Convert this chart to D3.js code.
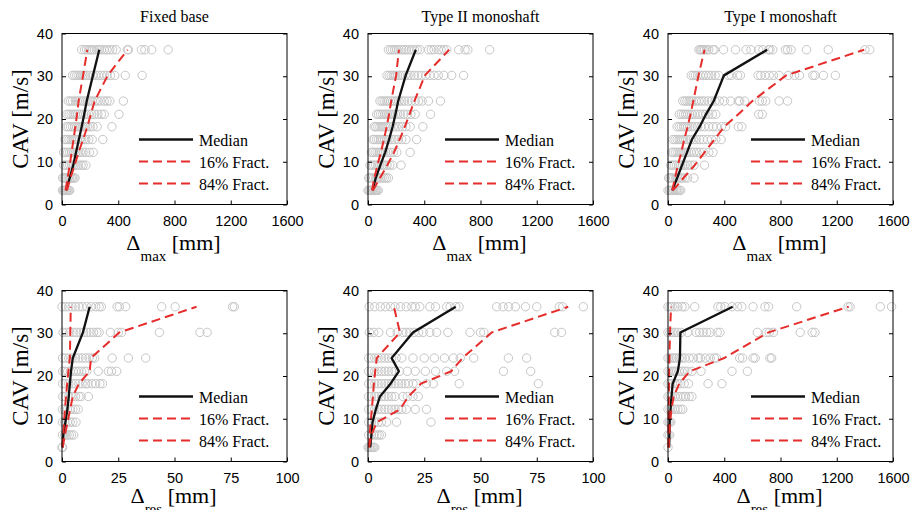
<!DOCTYPE html>
<html>
<head>
<meta charset="utf-8">
<script src="https://cdn.jsdelivr.net/npm/d3@7"></script>
<style>
  html, body { margin: 0; padding: 0; background: #fff; }
  svg { display: block; }
</style>
</head>
<body>
<svg id="chart" width="916" height="510"></svg>
<script>
// CAV intensity levels shared by every panel (m/s)
const cavLevels = [3.3, 6.2, 9.2, 12.2, 15.2, 18.2, 21.1, 24.2, 30.2, 36.2];

const panelTitles = ["Fixed base", "Type II monoshaft", "Type I monoshaft"];
const legendLabels = ["Median", "16% Fract.", "84% Fract."];
const yTicks = [0, 10, 20, 30, 40];
const xTicksWide = [0, 400, 800, 1200, 1600];
const xTicksNarrow = [0, 25, 50, 75, 100];

// ---- Maximum displacement, fixed base (mm), one row per CAV level ----
const fixedMaxPoints = [
  [3, 10, 18, 25, 32, 40, 48, 55],
  [5, 15, 25, 35, 45, 55, 65, 75, 85, 92],
  [12, 25, 40, 55, 70, 85, 100, 115, 135, 150, 170],
  [12, 25, 40, 55, 70, 85, 100, 115, 130, 150, 170, 195, 222],
  [22, 35, 50, 65, 80, 95, 110, 125, 140, 155, 170, 190, 215, 290],
  [33, 45, 60, 75, 90, 105, 120, 135, 150, 165, 180, 200, 220, 250, 355],
  [35, 50, 65, 80, 95, 110, 125, 140, 155, 170, 190, 210, 230, 255, 280, 300, 405],
  [45, 60, 75, 95, 110, 125, 140, 155, 170, 185, 200, 215, 235, 255, 275, 300, 320, 340, 436],
  [75, 90, 105, 120, 135, 150, 165, 180, 200, 220, 240, 260, 280, 300, 320, 345, 375, 450, 570],
  [140, 160, 175, 190, 205, 215, 230, 250, 265, 280, 300, 320, 340, 360, 385, 465, 472, 565, 590, 638, 755]
];
const fixedMaxMedian = [28, 55, 80, 100, 120, 140, 158, 176, 220, 265];
const fixedMax16 = [25, 40, 55, 68, 82, 95, 107, 118, 150, 180];
const fixedMax84 = [35, 60, 90, 118, 150, 180, 205, 232, 325, 467];

// ---- Maximum displacement, Type II monoshaft (mm) ----
const typeIIMaxPoints = [
  [0, 8, 16, 24, 32, 40, 48, 56, 64, 72],
  [5, 15, 25, 40, 55, 70, 85, 100, 115, 130, 145],
  [14, 25, 40, 55, 70, 85, 100, 115, 135, 155, 175, 235],
  [25, 35, 50, 65, 80, 95, 110, 125, 140, 160, 180, 205, 300],
  [35, 45, 60, 75, 90, 105, 120, 135, 150, 170, 190, 215, 240, 270, 346],
  [45, 55, 70, 85, 100, 115, 130, 145, 160, 180, 200, 220, 245, 270, 300, 390],
  [62, 75, 90, 105, 120, 135, 150, 165, 180, 195, 210, 230, 255, 280, 305, 335, 445],
  [85, 100, 115, 130, 145, 160, 175, 190, 205, 220, 240, 260, 285, 310, 335, 360, 385, 430, 515],
  [135, 150, 165, 180, 195, 210, 225, 245, 265, 285, 305, 330, 355, 380, 410, 440, 470, 500, 540, 595, 680],
  [145, 160, 175, 190, 205, 220, 240, 255, 270, 290, 310, 330, 350, 370, 430, 450, 470, 500, 520, 540, 560, 645, 690, 710, 865]
];
const typeIIMaxMedian = [32, 55, 88, 122, 150, 175, 195, 215, 268, 340];
const typeIIMax16 = [28, 45, 67, 92, 113, 133, 150, 165, 200, 220];
const typeIIMax84 = [35, 85, 137, 185, 225, 262, 295, 330, 405, 577];

// ---- Maximum displacement, Type I monoshaft (mm) ----
const typeIMaxPoints = [
  [0, 10, 20, 30, 40, 50, 60, 70, 80, 90],
  [5, 15, 25, 40, 55, 70, 85, 100, 120, 140, 185],
  [20, 32, 45, 60, 75, 90, 105, 120, 140, 160, 185, 260],
  [28, 40, 55, 70, 85, 100, 115, 130, 145, 165, 185, 205, 225, 250, 290, 320],
  [35, 50, 65, 80, 95, 110, 125, 140, 160, 180, 200, 225, 250, 280, 310, 340, 378],
  [65, 80, 95, 110, 125, 140, 155, 170, 190, 210, 235, 260, 290, 320, 345, 380, 410, 500, 525],
  [80, 95, 110, 125, 140, 155, 170, 190, 210, 230, 250, 270, 290, 315, 340, 645, 670],
  [105, 120, 135, 150, 165, 180, 200, 220, 240, 260, 285, 310, 335, 365, 400, 445, 500, 510, 545, 650, 670, 695, 790, 850],
  [165, 180, 195, 210, 230, 250, 270, 290, 310, 335, 360, 430, 450, 495, 515, 640, 660, 690, 720, 750, 790, 855, 900, 935, 1030, 1045, 1105, 1190],
  [220, 230, 240, 250, 260, 275, 290, 320, 330, 395, 480, 555, 590, 645, 675, 715, 725, 745, 835, 850, 875, 985, 1140, 1400, 1435]
];
const typeIMaxMedian = [30, 65, 100, 135, 170, 225, 270, 325, 398, 705];
const typeIMax16 = [30, 50, 70, 95, 115, 140, 160, 180, 217, 260];
const typeIMax84 = [35, 110, 190, 260, 330, 400, 500, 600, 840, 1395];

// ---- Residual displacement, fixed base (mm) ----
const fixedResPoints = [
  [0, 0.3],
  [0.2, 1.2, 2.2, 3.2, 4.2, 5.2],
  [0.2, 1.2, 2.4, 3.6, 4.8, 6.2],
  [0.2, 1.2, 2.4, 3.6, 4.8, 6, 7.2],
  [0.3, 1.5, 3, 4.5, 6, 7.5, 8.5, 11.7],
  [0.3, 1.5, 3, 4.5, 6, 7.5, 9, 10.5, 11.5, 13.3, 15, 16.8, 18],
  [0.3, 1.3, 2.5, 3.7, 5, 6.2, 7.4, 8.7, 10, 11, 16.1, 20.6, 22, 24.3],
  [0.3, 1.5, 3, 4.5, 6, 7.5, 9, 10.5, 12, 13.5, 14.5, 22.3, 29.5, 37.2],
  [0.5, 2, 3.5, 5, 6.5, 8, 9.5, 11, 12.5, 14, 15.5, 16.5, 21.5, 25, 26.5, 43.3, 61.3, 64.5],
  [0, 1.5, 3, 4.5, 6, 7.5, 9, 11, 13, 15, 16.5, 17.5, 24.5, 25.5, 28.3, 44.3, 50.3, 75.8, 76.6]
];
const fixedResMedian = [0.3, 0.6, 1.5, 2.4, 3.0, 3.5, 4.0, 4.8, 9.3, 12.3];
const fixedRes16 = [0.2, 0.5, 0.9, 1.3, 1.8, 2.3, 2.8, 3.5, 3.7, 3.9];
const fixedRes84 = [0.3, 1.3, 2.5, 3.6, 4.8, 7.5, 12.3, 12.9, 25.5, 59.8];

// ---- Residual displacement, Type II monoshaft (mm) ----
const typeIIResPoints = [
  [0, 0.6, 1.2, 1.8, 2.4, 3],
  [0.3, 1.5, 2.7, 4, 5, 6],
  [0.3, 1.5, 3, 4.5, 6, 8.3, 12.7, 28],
  [0.3, 1.5, 3, 4.5, 6, 7.5, 9, 10.5, 12, 13.5, 15, 17, 21, 26],
  [0.3, 1.5, 3, 4.5, 6, 7.5, 9, 10.5, 12, 15.5, 17.5, 20, 22.3],
  [0.3, 1.5, 3, 4.5, 6, 7.5, 9, 10.5, 12, 13.5, 15, 16.5, 18, 20, 21.5, 26, 29, 40.5, 75.7],
  [0.3, 1.5, 3, 4.5, 6, 7.5, 9, 10.5, 12, 14, 17.5, 21, 25.5, 30, 35, 38.5, 60.2, 72.3],
  [0.3, 1.5, 3, 4.5, 6, 7.5, 9, 10.5, 12.5, 15, 20, 25, 29.5, 34, 38, 41, 47, 62.4, 70.5],
  [0.6, 2.5, 4.8, 10, 13, 15.5, 17, 18.5, 20.5, 22.5, 24.5, 27.5, 30.5, 35.5, 45.3, 50, 51.5, 83, 86],
  [0.5, 3, 5.5, 7.8, 10, 12, 14.5, 17, 19.5, 21, 23, 27.5, 30, 35, 36.5, 39, 40.5, 57.2, 60, 62.5, 65.5, 70, 75, 85, 86.5, 95.7]
];
const typeIIResMedian = [1.0, 1.5, 2.0, 3.5, 5.3, 10, 13.7, 10.5, 20, 39];
const typeIIRes16 = [0.4, 0.7, 1.2, 1.7, 2.2, 2.6, 3.2, 3.9, 14.2, 11.5];
const typeIIRes84 = [0.5, 1.5, 4, 14.2, 18, 23.5, 37, 42, 55, 89];

// ---- Residual displacement, Type I monoshaft (mm) ----
const typeIResPoints = [
  [0],
  [0, 12],
  [0, 10, 20],
  [0, 15, 30, 50, 70, 90, 105],
  [0, 15, 30, 50, 70, 90, 110, 125, 150, 170],
  [0, 15, 30, 50, 70, 90, 115, 145, 285, 383],
  [0, 15, 30, 45, 60, 80, 100, 120, 140, 170, 235, 455, 565],
  [0, 15, 30, 45, 60, 80, 100, 120, 150, 180, 215, 230, 265, 300, 330, 345, 510, 530, 605, 620, 725, 737],
  [0, 15, 30, 50, 70, 95, 140, 200, 225, 250, 275, 300, 350, 370, 635, 700, 720, 750, 940, 1025, 1045],
  [0, 15, 30, 50, 70, 100, 120, 190, 355, 375, 405, 455, 495, 525, 605, 690, 715, 915, 1280, 1295, 1510, 1590]
];
const typeIResMedian = [8, 10, 12, 18, 25, 33, 70, 85, 88, 460];
const typeIRes16 = [3, 3, 4, 5, 6, 7, 8, 10, 14, 22];
const typeIRes84 = [5, 10, 14, 25, 40, 80, 155, 400, 715, 1285];

// ---- Layout ----
const plotW = 225, plotH = 171;
const colLeft = [62, 368, 668];
const rowTop = [33.5, 290.5];
const legendDx = [77, 77, 83];
const xLabelBaseline = [250, 503];
const RED = "#e52d2b";
const GREY = "#c6c6c6";
const SERIF = "'Liberation Serif', 'Times New Roman', serif";
const SANS = "'Liberation Sans', Arial, sans-serif";

const panels = [
  { col: 0, row: 0, xMax: 1600, ticks: xTicksWide, sub: "max", pts: fixedMaxPoints, med: fixedMaxMedian, lo: fixedMax16, hi: fixedMax84 },
  { col: 1, row: 0, xMax: 1600, ticks: xTicksWide, sub: "max", pts: typeIIMaxPoints, med: typeIIMaxMedian, lo: typeIIMax16, hi: typeIIMax84 },
  { col: 2, row: 0, xMax: 1600, ticks: xTicksWide, sub: "max", pts: typeIMaxPoints, med: typeIMaxMedian, lo: typeIMax16, hi: typeIMax84 },
  { col: 0, row: 1, xMax: 100, ticks: xTicksNarrow, sub: "res", pts: fixedResPoints, med: fixedResMedian, lo: fixedRes16, hi: fixedRes84 },
  { col: 1, row: 1, xMax: 100, ticks: xTicksNarrow, sub: "res", pts: typeIIResPoints, med: typeIIResMedian, lo: typeIIRes16, hi: typeIIRes84 },
  { col: 2, row: 1, xMax: 1600, ticks: xTicksWide, sub: "res", pts: typeIResPoints, med: typeIResMedian, lo: typeIRes16, hi: typeIRes84 }
];

const svg = d3.select("#chart");

panels.forEach(p => {
  const left = colLeft[p.col], top = rowTop[p.row];
  const x = d3.scaleLinear().domain([0, p.xMax]).range([0, plotW]);
  const y = d3.scaleLinear().domain([0, 40]).range([plotH, 0]);
  const g = svg.append("g").attr("transform", `translate(${left},${top})`);

  // scatter of individual records
  const flat = [];
  p.pts.forEach((row, i) => row.forEach(v => flat.push({ v, c: cavLevels[i] })));
  g.append("g").selectAll("circle").data(flat).join("circle")
    .attr("cx", d => x(d.v)).attr("cy", d => y(d.c)).attr("r", 4.2)
    .attr("fill", "none").attr("stroke", GREY).attr("stroke-width", 1);

  // statistics lines
  const line = d3.line().x(d => x(d[0])).y(d => y(d[1]));
  const series = [
    { vals: p.med, color: "#111", w: 2.3, dash: null },
    { vals: p.lo, color: RED, w: 2, dash: "9,5" },
    { vals: p.hi, color: RED, w: 2, dash: "9,5" }
  ];
  series.forEach(s => {
    g.append("path")
      .datum(s.vals.map((v, i) => [v, cavLevels[i]]))
      .attr("d", line).attr("fill", "none")
      .attr("stroke", s.color).attr("stroke-width", s.w)
      .attr("stroke-dasharray", s.dash);
  });

  // axes with inward ticks
  const fmt = d3.format("d");
  const xAxis = g.append("g").attr("transform", `translate(0,${plotH})`)
    .call(d3.axisBottom(x).tickValues(p.ticks).tickFormat(fmt).tickSizeInner(-4).tickSizeOuter(0).tickPadding(11));
  const yAxis = g.append("g")
    .call(d3.axisLeft(y).tickValues(yTicks).tickFormat(fmt).tickSizeInner(-4).tickSizeOuter(0).tickPadding(9));
  const yAxisR = g.append("g").attr("transform", `translate(${plotW},0)`)
    .call(d3.axisRight(y).tickValues(yTicks).tickFormat("").tickSizeInner(-4).tickSizeOuter(0));
  [xAxis, yAxis, yAxisR].forEach(a => {
    a.select(".domain").remove();
    a.selectAll("line").attr("stroke", "#000");
    a.selectAll("text").attr("fill", "#000").style("font-family", SANS).style("font-size", "14.5px");
  });

  // axes box
  g.append("rect").attr("width", plotW).attr("height", plotH)
    .attr("fill", "none").attr("stroke", "#000").attr("stroke-width", 1);

  // legend
  const lg = g.append("g").attr("transform", `translate(${legendDx[p.col]},106)`);
  series.forEach((s, i) => {
    lg.append("line").attr("x1", 0).attr("x2", 54).attr("y1", i * 22).attr("y2", i * 22)
      .attr("stroke", s.color).attr("stroke-width", s.w).attr("stroke-dasharray", s.dash);
    lg.append("text").attr("x", 60).attr("y", i * 22 + 6)
      .style("font-family", SERIF).style("font-size", "16px").attr("fill", "#000")
      .text(legendLabels[i]);
  });

  // y label
  svg.append("text")
    .attr("transform", `translate(${left - 34},${top + plotH / 2}) rotate(-90)`)
    .attr("text-anchor", "middle")
    .style("font-family", SERIF).style("font-size", "23px").attr("fill", "#000")
    .text("CAV [m/s]");

  // x label with subscript
  const xl = svg.append("text")
    .attr("x", left + plotW / 2 - 1).attr("y", xLabelBaseline[p.row])
    .attr("text-anchor", "middle")
    .style("font-family", SERIF).style("font-size", "22px").attr("fill", "#000");
  xl.append("tspan").text("Δ");
  xl.append("tspan").attr("dy", 11).style("font-size", "15px").text(p.sub);
  xl.append("tspan").attr("dy", -11).text(" [mm]");

  // column titles on the top row
  if (p.row === 0) {
    svg.append("text")
      .attr("x", left + plotW / 2).attr("y", 22)
      .attr("text-anchor", "middle")
      .style("font-family", SERIF).style("font-size", "16px").attr("fill", "#000")
      .text(panelTitles[p.col]);
  }
});
</script>
</body>
</html>
